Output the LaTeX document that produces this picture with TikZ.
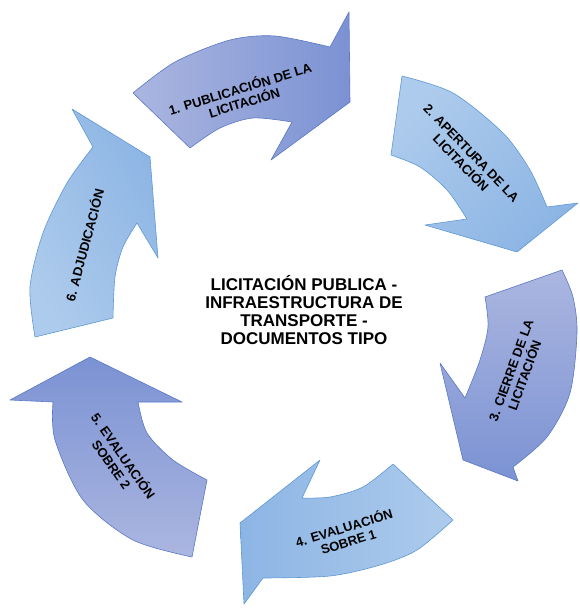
\documentclass[tikz,border=0pt]{standalone}
\usepackage{fontspec}
\setmainfont{Liberation Sans}
\definecolor{lightA}{HTML}{ABB6E0}
\definecolor{darkA}{HTML}{7B92D3}
\definecolor{outA}{HTML}{5A78C6}
\definecolor{lightB}{HTML}{ADCBEC}
\definecolor{darkB}{HTML}{8DB5E4}
\definecolor{outB}{HTML}{5E98D6}
\begin{document}
\begin{tikzpicture}[x=1pt,y=-1pt,
  arrA/.style={draw=outA, line width=0.6pt, line join=round, top color=darkA, bottom color=lightA},
  arrB/.style={draw=outB, line width=0.6pt, line join=round, top color=darkB, bottom color=lightB},
  lbl/.style={font=\bfseries\fontsize{13}{14.5}\selectfont, align=center, text=black, inner sep=0pt},
  ctr/.style={font=\bfseries\fontsize{17}{18}\selectfont, align=center, text=black, inner sep=0pt}]
\useasboundingbox (0,0) rectangle (579,610);
% arrow 1
\path[arrA, shading angle=-90] plot[smooth] coordinates {(133,93) (175,62) (230,40) (275,36) (330,47)}
  -- (349,12) -- (350,102) -- (271,160)
  -- plot[smooth] coordinates {(292,122) (253,118) (220,128) (190,148)} -- cycle;
% arrow 2
\path[arrB, shading angle=-135] plot[smooth] coordinates {(402,76) (453,93) (503,133) (530,170) (547,207)}
  -- (578,203) -- (517,252) -- (425,225)
  -- plot[smooth] coordinates {(467,219) (447,190) (420,167) (391,155)} -- cycle;
% arrow 3
\path[arrA, shading angle=180] plot[smooth] coordinates {(562,270) (573,297) (577,333) (570,393) (547,437) (513,467)}
  -- (518,481) -- (463,460) -- (440,363)
  -- plot[smooth] coordinates {(465,398) (480,360) (488,327) (485,297)} -- cycle;
% arrow 4
\path[arrB, shading angle=90] plot[smooth] coordinates {(453,520) (417,550) (380,565) (330,576) (263,578)}
  -- (244,604) -- (240,523) -- (320,460)
  -- plot[smooth] coordinates {(302,498) (330,497) (363,487) (393,464)} -- cycle;
% arrow 5
\path[arrA, shading angle=0] plot[smooth] coordinates {(192,557) (133,540) (83,500) (55,440) (53,402)}
  -- (10,400) -- (90,357) -- (182,402)
  -- plot[smooth] coordinates {(138,402) (147,433) (173,460) (207,480)} -- cycle;
% arrow 6
\path[arrB, shading angle=-60] plot[smooth] coordinates {(35,337) (30,287) (43,233) (67,183) (93,147)}
  -- (72,109) -- (150,157) -- (158,258)
  -- plot[smooth] coordinates {(137,223) (123,247) (115,277) (113,318)} -- cycle;
% labels
\node[lbl, rotate=17] (l1) at (242,95) {1. PUBLICACIÓN DE LA\\LICITACIÓN};
\node[lbl, rotate=-46] (l2) at (466,158) {2. APERTURA DE LA\\LICITACIÓN};
\node[lbl, rotate=70] (l3) at (518,373) {3. CIERRE DE LA\\LICITACIÓN};
\node[lbl, rotate=17] (l4) at (346,534) {4. EVALUACIÓN\\SOBRE 1};
\node[lbl, rotate=-55] (l5) at (118,460) {5. EVALUACIÓN\\SOBRE 2};
\node[lbl, rotate=75] (l6) at (84,245) {6. ADJUDICACIÓN};
\node[ctr] (c) at (304,310) {LICITACIÓN PUBLICA -\\INFRAESTRUCTURA DE\\TRANSPORTE -\\DOCUMENTOS TIPO};
\end{tikzpicture}
\end{document}
